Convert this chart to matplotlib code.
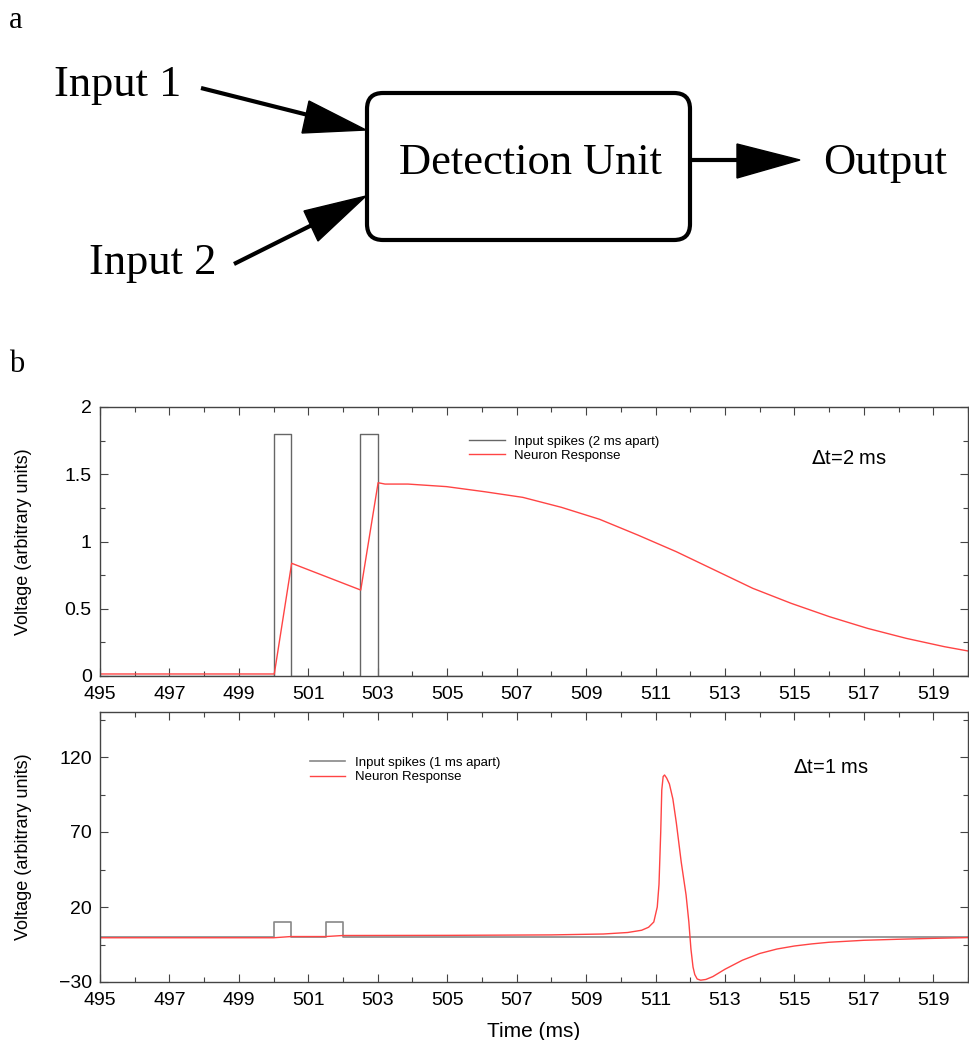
import numpy as np
import matplotlib.pyplot as plt
from matplotlib.patches import FancyBboxPatch, Polygon
from matplotlib.ticker import MultipleLocator

plt.rcParams['font.family'] = ['Liberation Sans', 'DejaVu Sans']

# ---- data, panel b top (2 ms apart) ----
spk2_t = [495, 500.0, 500.0, 500.5, 500.5, 502.5, 502.5, 503.0, 503.0, 520]
spk2_v = [0, 0, 1.8, 1.8, 0, 0, 1.8, 1.8, 0, 0]
resp2_t = [495, 500.02, 500.52, 502.51, 503.01, 503.21, 503.87, 504.98, 506.08,
           507.18, 508.29, 509.39, 510.49, 511.6, 512.7, 513.8, 514.91, 516.01,
           517.11, 518.22, 519.32, 520.0]
resp2_v = [0.015, 0.015, 0.838, 0.639, 1.437, 1.427, 1.427, 1.408, 1.37,
           1.328, 1.254, 1.165, 1.048, 0.924, 0.788, 0.652, 0.54, 0.441,
           0.354, 0.28, 0.218, 0.186]

# ---- data, panel b bottom (1 ms apart) ----
spk1_t = [495, 500.0, 500.0, 500.5, 500.5, 501.5, 501.5, 502.0, 502.0, 520]
spk1_v = [0, 0, 10, 10, 0, 0, 10, 10, 0, 0]
resp1_t = [495, 500.0, 500.5, 501.5, 502.0, 505, 508, 509.5, 510.2, 510.6,
           510.8, 510.95, 511.05, 511.1, 511.15, 511.18, 511.22, 511.26, 511.32,
           511.4, 511.5, 511.6, 511.74, 511.88, 511.96, 512.02, 512.08, 512.13,
           512.2, 512.3, 512.45, 512.65, 513.0, 513.5, 514.0, 514.5, 515.0,
           515.5, 516.0, 517, 518, 519, 520]
resp1_v = [-0.5, -0.5, 0.3, 0.3, 1.0, 1.1, 1.4, 2.0, 3.0, 4.5,
           6.5, 10, 20, 35, 70, 98, 107, 108, 106,
           102, 92, 76, 50, 28, 10, -8, -20, -25,
           -28, -28.8, -28.3, -26.4, -21.5, -15.5, -11, -8, -6,
           -4.6, -3.5, -2.2, -1.5, -0.9, -0.4]

xticks = np.arange(495, 520, 2)
W, H = 969, 1040
fig = plt.figure(figsize=(W / 100, H / 100), dpi=100)

# ---- panel a: block diagram, in pixel coordinates ----
dg = fig.add_axes([0, 1 - 380 / H, 1, 380 / H])
dg.set_xlim(0, W)
dg.set_ylim(380, 0)
dg.axis('off')
serif = ['Liberation Serif', 'DejaVu Serif']
dg.text(16, 28, 'a', family=serif, fontsize=22, ha='center', va='baseline')
dg.text(17, 372, 'b', family=serif, fontsize=22, ha='center', va='baseline')
box = FancyBboxPatch((367, 93), 323, 147, boxstyle='round,pad=0,rounding_size=16',
                     fc='white', ec='black', lw=3)
dg.add_patch(box)
dg.text(531, 174, 'Detection Unit', family=serif, fontsize=32, ha='center', va='baseline')
dg.text(118, 96, 'Input 1', family=serif, fontsize=32, ha='center', va='baseline')
dg.text(153, 274, 'Input 2', family=serif, fontsize=32, ha='center', va='baseline')
dg.text(885, 174, 'Output', family=serif, fontsize=32, ha='center', va='baseline')

# arrows: shaft + filled head
dg.plot([201, 320], [88, 118], color='black', lw=3, solid_capstyle='butt')
dg.add_patch(Polygon([[366, 130], [309, 101], [302, 133]], closed=True, fc='black', ec='black'))
dg.plot([234, 330], [264, 216], color='black', lw=3, solid_capstyle='butt')
dg.add_patch(Polygon([[366, 196], [304, 211], [318, 241]], closed=True, fc='black', ec='black'))
dg.plot([690, 745], [160, 160], color='black', lw=3, solid_capstyle='butt')
dg.add_patch(Polygon([[800, 160], [737, 144], [737, 178]], closed=True, fc='black', ec='black'))


def style_axes(ax):
    ax.set_xlim(495, 520)
    ax.set_xticks(xticks)
    ax.xaxis.set_minor_locator(MultipleLocator(1))
    ax.tick_params(which='both', direction='in', top=True, right=True,
                   color='#444444', labelsize=14)
    ax.tick_params(which='major', length=6, width=0.8, pad=6)
    ax.tick_params(axis='x', which='major', pad=7)
    ax.tick_params(which='minor', length=3.5, width=0.8)
    for s in ax.spines.values():
        s.set_color('#444444')
        s.set_linewidth(1.0)
    ax.set_ylabel('Voltage (arbitrary units)', fontsize=13)
    ax.yaxis.set_label_coords(-0.078, 0.5)


# ---- panel b, top ----
ax1 = fig.add_axes([100 / W, 1 - 676 / H, 868 / W, 269 / H])
ax1.plot(spk2_t, spk2_v, color='#666666', lw=1, label='Input spikes (2 ms apart)')
ax1.plot(resp2_t, resp2_v, color='#ff4444', lw=1, label='Neuron Response')
style_axes(ax1)
ax1.set_ylim(0, 2)
ax1.set_yticks([0, 0.5, 1, 1.5, 2])
ax1.set_yticklabels(['0', '0.5', '1', '1.5', '2'])
ax1.yaxis.set_minor_locator(MultipleLocator(0.25))
ax1.legend(loc='upper left', bbox_to_anchor=(0.418, 0.918), frameon=False,
           fontsize=9.5, borderpad=0, handlelength=2.7, handletextpad=0.7,
           labelspacing=0.15)
ax1.text(0.863, 0.807, r'$\Delta$t=2 ms', transform=ax1.transAxes,
         fontsize=14.5, ha='center', va='center')

# ---- panel b, bottom ----
ax2 = fig.add_axes([100 / W, 1 - 982 / H, 868 / W, 270 / H])
ax2.plot(spk1_t, spk1_v, color='#888888', lw=1.2, label='Input spikes (1 ms apart)')
ax2.plot(resp1_t, resp1_v, color='#ff4444', lw=1, label='Neuron Response')
style_axes(ax2)
ax2.set_ylim(-30, 150)
ax2.set_yticks([-30, 20, 70, 120])
ax2.yaxis.set_minor_locator(plt.FixedLocator([-5, 45, 95, 145]))
ax2.legend(loc='upper left', bbox_to_anchor=(0.234, 0.859), frameon=False,
           fontsize=9.5, borderpad=0, handlelength=2.7, handletextpad=0.7,
           labelspacing=0.15)
ax2.text(0.842, 0.796, r'$\Delta$t=1 ms', transform=ax2.transAxes,
         fontsize=14.5, ha='center', va='center')
ax2.set_xlabel('Time (ms)', fontsize=15)
ax2.xaxis.set_label_coords(0.5, -0.148)

fig.savefig('out.png', dpi=100)
